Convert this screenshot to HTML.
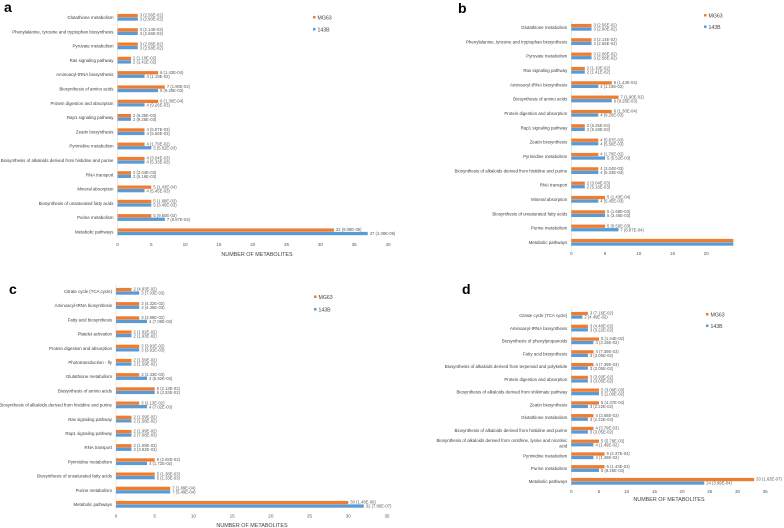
<!DOCTYPE html>
<html><head><meta charset="utf-8"><style>
html,body{margin:0;padding:0;background:#fff;}
svg{display:block;font-family:"Liberation Sans",sans-serif;}
</style></head><body>
<svg id="chart" width="784" height="528" viewBox="0 0 784 528"></svg>
<script>
// ---- Panel a data ----
const aCats=["Glutathione metabolism","Phenylalanine, tyrosine and tryptophan biosynthesis","Pyruvate metabolism","Ras signaling pathway","Aminoacyl-tRNA biosynthesis","Biosynthesis of amino acids","Protein digestion and absorption","Rap1 signaling pathway","Zeatin biosynthesis","Pyrimidine metabolism","Biosynthesis of alkaloids derived from histidine and purine","RNA transport","Mineral absorption","Biosynthesis of unsaturated fatty acids","Purine metabolism","Metabolic pathways"];
const aMG=[3,3,3,2,6,7,6,2,4,4,4,2,5,5,5,32];
const a143=[3,3,3,2,4,6,4,2,4,5,4,2,4,5,7,37];
const aMGp=["2.56E-02","2.14E-02","2.06E-02","1.10E-02","1.43E-04","1.90E-02","1.30E-04","6.35E-03","5.87E-03","1.79E-02","3.04E-03","3.04E-03","1.43E-04","1.68E-03","9.50E-03","9.08E-06"];
const a143p=["2.90E-02","2.66E-02","2.58E-02","1.41E-02","1.19E-02","9.28E-03","9.26E-03","9.28E-03","5.56E-03","5.52E-03","5.33E-03","5.16E-03","5.45E-03","3.45E-03","8.87E-04","4.38E-09"];
const aTicks=[0,5,10,15,20,25,30,35,40];
// ---- Panel b data ----
const bCats=aCats.slice();
const bMG=[3,3,3,2,6,7,6,2,4,4,4,2,5,5,5,24];
const b143=[3,3,3,2,4,6,4,2,4,5,4,2,4,5,7,24];
const bMGp=aMGp.slice(0,15).concat([""]);
const b143p=a143p.slice(0,15).concat([""]);
const bTicks=[0,5,10,15,20];
// ---- Panel c data ----
const cCats=["Citrate cycle (TCA cycle)","Aminoacyl-tRNA biosynthesis","Fatty acid biosynthesis","Platelet activation","Protein digestion and absorption","Phototransduction - fly","Glutathione metabolism","Biosynthesis of amino acids","Biosynthesis of alkaloids derived from histidine and purine","Ras signaling pathway","Rap1 signaling pathway","RNA transport","Pyrimidine metabolism","Biosynthesis of unsaturated fatty acids","Purine metabolism","Metabolic pathways"];
const cMG=[2,3,3,2,3,2,3,5,3,2,2,2,5,5,7,30];
const c143=[3,3,4,2,3,2,4,5,4,2,2,2,4,5,7,32];
const cMGp=["4.93E-02","4.32E-02","3.89E-02","1.92E-02","3.91E-02","1.59E-02","2.33E-03","2.13E-02","2.13E-02","1.59E-02","1.99E-02","1.09E-03","2.92E-03","1.38E-03","1.89E-04","1.48E-06"];
const c143p=["7.03E-03","4.35E-03","7.08E-03","1.93E-02","3.91E-03","1.59E-02","5.92E-03","2.53E-02","7.02E-03","1.58E-02","7.08E-03","3.92E-03","1.72E-02","1.33E-03","5.49E-04","7.86E-07"];
const cTicks=[0,5,10,15,20,25,30,35];
// ---- Panel d data ----
const dCats=["Citrate cycle (TCA cycle)","Aminoacyl-tRNA biosynthesis","Biosynthesis of phenylpropanoids","Fatty acid biosynthesis","Biosynthesis of alkaloids derived from terpenoid and polyketide","Protein digestion and absorption","Biosynthesis of alkaloids derived from shikimate pathway","Zeatin biosynthesis","Glutathione metabolism","Biosynthesis of alkaloids derived from histidine and purine","Biosynthesis of alkaloids derived from ornithine, lysine and nicotinic|acid","Pyrimidine metabolism","Purine metabolism","Metabolic pathways"];
const dMG=[3,3,5,4,4,3,5,5,4,4,5,6,6,33];
const d143=[2,3,4,3,3,3,5,3,3,3,4,4,5,24];
const dMGp=["7.16E-02","4.46E-02","1.44E-02","7.39E-03","7.39E-03","3.93E-02","3.09E-03","4.37E-04","3.66E-03","3.79E-03","5.79E-03","4.37E-04","1.43E-03","1.63E-07"];
const d143p=["4.49E-02","3.22E-02","3.19E-02","3.05E-02","3.05E-02","3.05E-02","1.00E-02","2.22E-02","2.22E-04","3.05E-02","1.49E-02","1.49E-02","8.26E-03","3.99E-04"];
const dTicks=[0,5,10,15,20,25,30,35];

const NS="http://www.w3.org/2000/svg";
const svg=document.getElementById('chart');
function mk(tag,attrs,parent){const e=document.createElementNS(NS,tag);for(const k in attrs)e.setAttribute(k,attrs[k]);(parent||svg).appendChild(e);return e;}

function panel(p){
  const g=mk('g',{});
  
  
  const sx=v=>p.x0+v*p.unit;
  const n=p.cats.length;
  const step=(p.yLast-p.yFirst)/(n-1);
  const lt=mk('text',{x:p.lx,y:p.ly,'font-size':14,'font-weight':'bold',fill:'#000'},g);
  lt.textContent=p.id;
  
  
  // axis line
  const ax=mk('line',{x1:p.x0,x2:p.x0,y1:p.yFirst-5,y2:p.yLast+step*0.55,stroke:'#d9d9d9','stroke-width':0.6},g);
  
  
  for(let i=0;i<n;i++){
    const y=p.yFirst+i*step;
    const lines=p.cats[i].split('|');
    lines.forEach((ln,j)=>{
      const t=mk('text',{x:p.x0-4,y:y+3.5+j*5.5-(lines.length>1?2.5:0),'font-size':4.4,'text-anchor':'end',fill:'#404040'},g);
      t.textContent=ln;
      
      
    });
    const r1=mk('rect',{x:p.x0,y:y-1.6,width:p.mg[i]*p.unit,height:3.3,fill:'#ED7D31'},g);
    
    
    const r2=mk('rect',{x:p.x0,y:y+1.9,width:p.b[i]*p.unit,height:3.3,fill:'#5B9BD5'},g);
    
    
    if(p.mgp[i]){
      const v1=mk('text',{x:sx(p.mg[i])+2,y:y+1.2,'font-size':4.2,fill:'#595959'},g);
      v1.textContent=p.mg[i]+' ('+p.mgp[i]+')';
      
      
    }
    if(p.bp[i]){
      const v2=mk('text',{x:sx(p.b[i])+2,y:y+5.2,'font-size':4.2,fill:'#595959'},g);
      v2.textContent=p.b[i]+' ('+p.bp[i]+')';
      
      
    }
  }
  p.ticks.forEach(tv=>{
    const t=mk('text',{x:sx(tv),y:p.tickY,'font-size':4.6,'text-anchor':'middle',fill:'#595959'},g);
    t.textContent=tv;
    
    
  });
  if(p.titleY){
    const tt=mk('text',{x:p.titleX,y:p.titleY,'font-size':5.4,'text-anchor':'middle',fill:'#404040'},g);
    tt.textContent='NUMBER OF METABOLITES';
    
    
  }
  const leg=mk('g',{},g);
  
  
  [['MG63','#ED7D31',p.legY1],['143B','#5B9BD5',p.legY2]].forEach(([nm,c,yy])=>{
    const s=mk('rect',{x:p.legX,y:yy-2,width:2.5,height:2.5,fill:c},leg);
    
    
    const t=mk('text',{x:p.legX+4.5,y:yy+1.3,'font-size':5.2,fill:'#404040'},leg);
    t.textContent=nm;
    
    
  });
}

panel({id:'a',cats:aCats,mg:aMG,b:a143,mgp:aMGp,bp:a143p,ticks:aTicks,x0:117.5,unit:(388-117.5)/40,yFirst:15.5,yLast:230,tickY:246,titleX:257,titleY:256,legX:313,legY1:18,legY2:30,lx:4,ly:12});
panel({id:'b',cats:bCats,mg:bMG,b:b143,mgp:bMGp,bp:b143p,ticks:bTicks,x0:571.3,unit:6.75,yFirst:25.5,yLast:240.5,tickY:255,titleY:0,legX:704,legY1:16,legY2:27.5,lx:458,ly:13});
panel({id:'c',cats:cCats,mg:cMG,b:c143,mgp:cMGp,bp:c143p,ticks:cTicks,x0:116,unit:(387-116)/35,yFirst:289.5,yLast:502.5,tickY:517.5,titleX:252,titleY:527,legX:314,legY1:297.5,legY2:310,lx:9,ly:294});
panel({id:'d',cats:dCats,mg:dMG,b:d143,mgp:dMGp,bp:d143p,ticks:dTicks,x0:571.3,unit:5.54,yFirst:313.5,yLast:479.5,tickY:493,titleX:669,titleY:501,legX:706,legY1:315,legY2:326.5,lx:462,ly:294});
</script>
</body></html>
